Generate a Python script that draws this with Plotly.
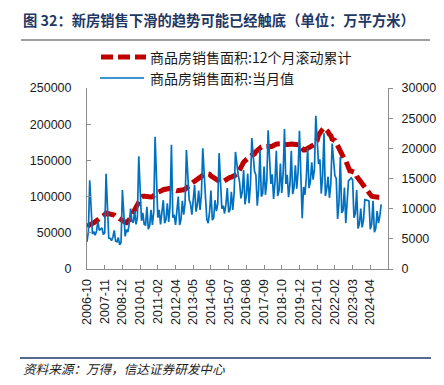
import pandas as pd
import plotly.graph_objects as go

# ---------------- data ----------------
missing_months = ["2012-01", "2019-01"]
categories = [m for m in pd.date_range("2006-10-01", "2024-12-01", freq="MS").strftime("%Y-%m")
              if m not in missing_months]

tick_labels = ["2006-10", "2007-11", "2008-12", "2010-01", "2011-02", "2012-04", "2013-05",
               "2014-06", "2015-07", "2016-08", "2017-09", "2018-10", "2019-12", "2021-01",
               "2022-02", "2023-03", "2024-04"]

# 商品房销售面积:当月值 (万平方米, right axis)
monthly_area = [
    4500, 6200, 14700,                                                              # 2006 Oct-Dec
    None, 5800, 6200, 5600, 6300, 7900, 6400, 6600, 6800, 5700, 6000, 15800,        # 2007
    None, 5100, 5100, 4700, 5300, 6400, 4600, 4500, 5200, 4000, 4400, 13100,        # 2008
    None, 5400, 6500, 6100, 7500, 10000, 7900, 7700, 9600, 7400, 8600, 18700,       # 2009
    None, 8000, 9300, 7400, 7300, 10300, 6600, 7200, 9800, 7300, 9500, 21900,       # 2010
    None, 8500, 9800, 7400, 9000, 11400, 7600, 8200, 10900, 7800, 10500, 20600,     # 2011
    8500, 9000, 7300, 9900, 12000, 7300, 8200, 11300, 9000, 10900, 19700,           # 2012 (Feb-Dec)
    None, 11500, 10800, 9000, 11800, 13900, 9500, 10600, 13000, 9800, 12400, 20000, # 2013
    None, 11900, 8200, 7600, 9500, 13000, 8100, 8500, 11400, 9600, 10800, 19200,    # 2014
    None, 10000, 10500, 9200, 10700, 13400, 9400, 9800, 12800, 9800, 12500, 19400,  # 2015
    None, 15600, 14500, 11700, 12800, 16400, 10700, 12200, 15800, 10900, 14000, 21700,  # 2016
    None, 16200, 15600, 10500, 13100, 19700, 12000, 12500, 17000, 12300, 14500, 23000,  # 2017
    None, 14100, 15700, 11600, 14300, 19600, 12100, 13000, 17500, 12600, 15800, 23200,  # 2018
    14100, 15600, 11900, 14100, 19600, 12400, 13500, 17200, 13300, 16200, 22900,        # 2019 (Feb-Dec)
    None, 8400, 13600, 12300, 15000, 20000, 13400, 14500, 17700, 14800, 16600, 25400,   # 2020
    None, 17400, 18200, 12500, 15400, 22500, 12100, 13300, 15300, 11800, 14100, 20800,  # 2021
    None, 15500, 15000, 8300, 11000, 18600, 9300, 9700, 13500, 7600, 12300, 14600,      # 2022
    None, 15100, 14800, 8500, 9200, 13100, 6700, 7500, 10000, 6900, 8100, 11500,        # 2023
    None, 11400, 11300, 6600, 7400, 11300, 6100, 6700, 9600, 7600, 8800, 10700,         # 2024
]

# 商品房销售面积:12个月滚动累计 (万平方米, left axis)
rolling_area = [
    59000, 60500, 61900,                                                                        # 2006
    62500, 63000, 63800, 65000, 66200, 67500, 69000, 70500, 72000, 73500, 75000, 77400,         # 2007
    77000, 76500, 76200, 76000, 75800, 74500, 73000, 71500, 70000, 68500, 66800, 66000,         # 2008
    65200, 64500, 64000, 65500, 68000, 71500, 75000, 79000, 83500, 87000, 91000, 94800,         # 2009
    97000, 99000, 100500, 101000, 100500, 100000, 99500, 99000, 99500, 100000, 101500, 104800,  # 2010
    105500, 106000, 106800, 107000, 108500, 109500, 110000, 110500, 111000, 111200, 111500, 109400,  # 2011
    109500, 110000, 108500, 108000, 108000, 108500, 108500, 108800, 109500, 110200, 111300,     # 2012
    112500, 114500, 116500, 118500, 120000, 122000, 123500, 125000, 126500, 128000, 129500, 130600,  # 2013
    131500, 132000, 131500, 131000, 130800, 128500, 127000, 125500, 124500, 123500, 122500, 120600,  # 2014
    120000, 119500, 121000, 122500, 123500, 124500, 125500, 126500, 127000, 127500, 128500, 128500,  # 2015
    130500, 133000, 137700, 141000, 144500, 147500, 149500, 151500, 153500, 155000, 156500, 157300,  # 2016
    158000, 159000, 162000, 164000, 166000, 168000, 168500, 169000, 169500, 170000, 170000, 169400,  # 2017
    169000, 168500, 169500, 170500, 172000, 172500, 172800, 173200, 173700, 173500, 173000, 171700,  # 2018
    171500, 171800, 172000, 172300, 172500, 172600, 172800, 172500, 172700, 172500, 171600,     # 2019
    169000, 166000, 164500, 164500, 165500, 166500, 167500, 168500, 169500, 171000, 172000, 176100,  # 2020
    178000, 185000, 189000, 191000, 193000, 195000, 193500, 192000, 189500, 186000, 184500, 179400,  # 2021
    179000, 177500, 174500, 170500, 166000, 159700, 157000, 153500, 151500, 149500, 144200, 135800,  # 2022
    135500, 135300, 135000, 134500, 133000, 128000, 125500, 123500, 120000, 119500, 115500, 111700,  # 2023
    110000, 108000, 104500, 102500, 100600, 100100, 99500, 98700, 98300, 99000, 98900, 97400,   # 2024
]

assert len(categories) == len(monthly_area) == len(rolling_area)

name_rolling = "商品房销售面积:12个月滚动累计"
name_monthly = "商品房销售面积:当月值"
title_text = "图 32：新房销售下滑的趋势可能已经触底（单位：万平方米）"
source_text = "资料来源：万得，信达证券研发中心"

# ---------------- layout helpers ----------------
# The page body has an 8px default margin, so the figure is placed at (8, 8).
OFF = 8
W, H = 444 - OFF - 8, 385 - OFF - 8        # figure size
PLOT_X0, PLOT_X1 = 87, 388                 # plot area in window pixels
PLOT_Y0, PLOT_Y1 = 88, 269
L = PLOT_X0 - OFF
T = PLOT_Y0 - OFF
R = W - (PLOT_X1 - OFF)
B = H - (PLOT_Y1 - OFF)
PW, PH = PLOT_X1 - PLOT_X0, PLOT_Y1 - PLOT_Y0


def px(x):
    """window pixel x -> paper x"""
    return (x - PLOT_X0) / PW


def py(y):
    """window pixel y -> paper y"""
    return (PLOT_Y1 - y) / PH


FONT = "Liberation Sans, Arial, Noto Sans CJK SC, sans-serif"
CJK = "Noto Sans CJK SC, Liberation Sans, sans-serif"
RED = "#C00000"
BLUE = "#0070C0"

fig = go.Figure()
fig.add_trace(go.Scatter(x=categories, y=rolling_area, name=name_rolling, mode="lines",
                         line=dict(color=RED, width=5, dash="14px,5px"),
                         showlegend=False, yaxis="y"))
fig.add_trace(go.Scatter(x=categories, y=monthly_area, name=name_monthly, mode="lines",
                         line=dict(color=BLUE, width=1.7), connectgaps=True,
                         showlegend=False, yaxis="y2"))

axis_color = "#8C8C8C"
fig.update_layout(
    width=W, height=H, autosize=False,
    margin=dict(l=L, r=R, t=T, b=B, pad=0, autoexpand=False),
    paper_bgcolor="white", plot_bgcolor="white",
    font=dict(family=FONT, size=12.5, color="#1A1A1A"),
    xaxis=dict(type="category", range=[0, 221], tickmode="array",
               tickvals=tick_labels, ticktext=tick_labels, tickangle=-90,
               showline=True, linecolor=axis_color, linewidth=1,
               ticks="inside", ticklen=4, tickcolor=axis_color,
               showgrid=False, zeroline=False, ticklabelstandoff=4,
               automargin=False, tickfont=dict(size=12.5)),
    yaxis=dict(range=[0, 250000], tickmode="array",
               tickvals=[0, 50000, 100000, 150000, 200000, 250000],
               ticktext=["0", "50000", "100000", "150000", "200000", "250000"],
               showline=True, linecolor=axis_color, linewidth=1,
               ticks="inside", ticklen=4, tickcolor=axis_color,
               showgrid=False, zeroline=False, ticklabelstandoff=12,
               automargin=False),
    yaxis2=dict(range=[0, 30000], overlaying="y", side="right", tickmode="array",
                tickvals=[0, 5000, 10000, 15000, 20000, 25000, 30000],
                ticktext=["0", "5000", "10000", "15000", "20000", "25000", "30000"],
                showline=True, linecolor=axis_color, linewidth=1,
                ticks="outside", ticklen=4, tickcolor=axis_color,
                showgrid=False, zeroline=False, ticklabelstandoff=6,
                automargin=False),
)

shapes = [
    # rule under title
    dict(type="line", xref="paper", yref="paper", x0=px(21), x1=px(430), y0=py(40), y1=py(40),
         line=dict(color="#404040", width=1)),
    # rule above source
    dict(type="line", xref="paper", yref="paper", x0=px(20), x1=px(431), y0=py(358), y1=py(358),
         line=dict(color="#1F3864", width=1.5)),
    # legend symbols
    dict(type="line", xref="paper", yref="paper", x0=px(101), x1=px(146), y0=py(57), y1=py(57),
         line=dict(color=RED, width=5, dash="12px,5px")),
    dict(type="line", xref="paper", yref="paper", x0=px(100), x1=px(144), y0=py(78), y1=py(78),
         line=dict(color=BLUE, width=1.7)),
]

annotations = [
    dict(text=f"<b>{title_text}</b>", xref="paper", yref="paper", x=px(21), y=py(19),
         xanchor="left", yanchor="middle", showarrow=False,
         font=dict(family=CJK, size=14.3, color="#1F3864")),
    dict(text=name_rolling, xref="paper", yref="paper", x=px(148), y=py(57),
         xanchor="left", yanchor="middle", showarrow=False,
         font=dict(family=CJK, size=14, color="#1A1A1A")),
    dict(text=name_monthly, xref="paper", yref="paper", x=px(148), y=py(78),
         xanchor="left", yanchor="middle", showarrow=False,
         font=dict(family=CJK, size=14, color="#1A1A1A")),
    dict(text=f"<i>{source_text}</i>", xref="paper", yref="paper", x=px(21), y=py(368),
         xanchor="left", yanchor="middle", showarrow=False,
         font=dict(family=CJK, size=12.6, color="#1A1A1A")),
]

fig.update_layout(shapes=shapes, annotations=annotations)
fig.write_html("out.html")
